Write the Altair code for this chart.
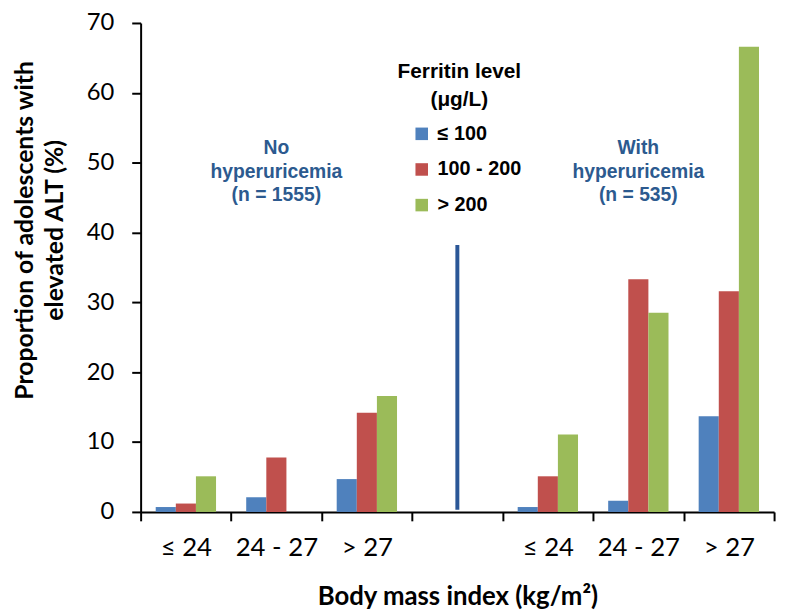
import altair as alt
import pandas as pd

# --- data ---
groups = ["n1", "n2", "n3", "gap", "h1", "h2", "h3"]
group_labels = ["≤ 24", "24 - 27", "> 27", "", "≤ 24", "24 - 27", "> 27"]
bar_groups = ["n1", "n2", "n3", "h1", "h2", "h3"]
ferritin = ["≤ 100", "100 - 200", "> 200"]
colors = ["#4F81BD", "#C0504D", "#9BBB59"]
low = [0.7, 2.1, 4.7, 0.7, 1.6, 13.7]
mid = [1.2, 7.8, 14.2, 5.1, 33.3, 31.6]
high = [5.1, 0.0, 16.6, 11.1, 28.5, 66.6]

divider_group = ["gap"]
divider_bottom = [0.3]
divider_top = [38.2]

note_groups = ["n2", "h2"]
note_text = ["No\nhyperuricemia\n(n = 1555)", "With\nhyperuricemia\n(n = 535)"]
note_y = [52.1, 52.1]

rows = []
for g, a, b, c in zip(bar_groups, low, mid, high):
    for f, v in zip(ferritin, [a, b, c]):
        rows.append({"group": g, "ferritin": f, "value": v})
df = pd.DataFrame(rows)
div_df = pd.DataFrame({"group": divider_group, "y": divider_bottom, "y2": divider_top})
note_df = pd.DataFrame({"group": note_groups, "text": note_text, "y": note_y})

label_expr = "[" + ",".join("'" + l + "'" for l in group_labels) + "][indexof([" + \
    ",".join("'" + g + "'" for g in groups) + "], datum.value)]"

x_scale = alt.Scale(domain=groups, paddingInner=0, paddingOuter=0)
y_scale = alt.Scale(domain=[0, 70])

bars = alt.Chart(df).mark_bar().encode(
    x=alt.X("group:N", scale=x_scale, sort=groups,
            axis=alt.Axis(title="Body mass index (kg/m²)", labelExpr=label_expr,
                          tickBand="extent", labelAngle=0, labelFont="Lato",
                          labelFontSize=26, labelColor="black", labelPadding=14,
                          tickSize=9, tickWidth=2, tickColor="black",
                          domainColor="black", domainWidth=2,
                          titleFont="Lato", titleFontSize=26, titleFontWeight="bold",
                          titleColor="black", titlePadding=24)),
    xOffset=alt.XOffset("ferritin:N", sort=ferritin,
                        scale=alt.Scale(domain=ferritin, paddingOuter=0.75, paddingInner=0)),
    y=alt.Y("value:Q", scale=y_scale,
            axis=alt.Axis(title=["Proportion of adolescents with", "elevated ALT (%)"],
                          values=list(range(0, 71, 10)), grid=False,
                          labelFont="Lato", labelFontSize=24, labelColor="black",
                          labelPadding=18, tickSize=9, tickWidth=2, tickColor="black",
                          domainColor="black", domainWidth=2,
                          titleFont="Lato", titleFontSize=25, titleFontWeight="bold",
                          titleColor="black", titleLineHeight=30,
                          titleX=-104, titleY=209)),
    color=alt.Color("ferritin:N", sort=ferritin,
                    scale=alt.Scale(domain=ferritin, range=colors),
                    legend=alt.Legend(title=["Ferritin level", "(μg/L)"], orient="none",
                                      legendX=259, legendY=39,
                                      titleFont="Liberation Sans", titleFontSize=21,
                                      titleFontWeight="bold", titleColor="black",
                                      titleAlign="center", titleAnchor="middle",
                                      titleLineHeight=28, titlePadding=14,
                                      labelFont="Liberation Sans", labelFontSize=20,
                                      labelFontWeight="bold", labelColor="black",
                                      symbolType="square", symbolSize=160,
                                      symbolStrokeWidth=0, symbolOffset=15,
                                      labelOffset=6, rowPadding=16, padding=0)),
)

divider = alt.Chart(div_df).mark_rule(color="#2B5797", strokeWidth=4).encode(
    x=alt.X("group:N", scale=x_scale, sort=groups),
    y=alt.Y("y:Q", scale=y_scale),
    y2="y2:Q",
)

notes = alt.Chart(note_df).mark_text(
    font="Liberation Sans", fontSize=19.5, fontWeight="bold", color="#2C5A8F",
    lineBreak="\n", lineHeight=24, align="center", baseline="middle",
).encode(
    x=alt.X("group:N", scale=x_scale, sort=groups),
    y=alt.Y("y:Q", scale=y_scale),
    text="text:N",
)

chart = alt.layer(bars, divider, notes).properties(
    width=640, height=494,
    autosize=alt.AutoSizeParams(type="none"),
    padding={"left": 134, "top": 12, "right": 8, "bottom": 100},
).configure_view(stroke=None)

chart.save("out.html", embed_options={"renderer": "svg", "actions": False})
